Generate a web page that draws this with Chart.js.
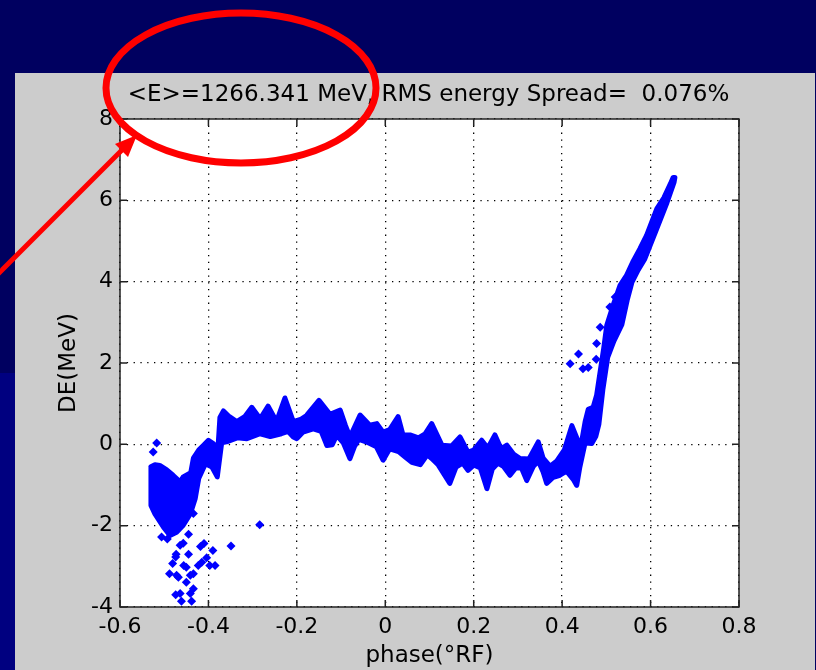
<!DOCTYPE html>
<html>
<head>
<meta charset="utf-8">
<script src="https://cdn.jsdelivr.net/npm/chart.js@4.4.1/dist/chart.umd.min.js"></script>
<style>
html, body { margin: 0; padding: 0; }
body { width: 816px; height: 670px; background: #000060; position: relative; overflow: hidden; }
#strip { position: absolute; left: 0; top: 373px; width: 15px; height: 297px; background: #000080; }
#panel { position: absolute; left: 15px; top: 73px; width: 800px; height: 597px; background: #cccccc; }
#wrap { position: absolute; left: 0; top: 0; width: 816px; height: 670px; }
</style>
</head>
<body>
<div id="strip"></div>
<div id="panel"></div>
<div id="wrap"><canvas id="c" width="816" height="670"></canvas></div>
<script>
// energy deviation vs phase
const titleText = '<E>=1266.341 MeV, RMS energy Spread=  0.076%';
const xTicks = [-0.6, -0.4, -0.2, 0, 0.2, 0.4, 0.6, 0.8];
const xTickLabels = ['-0.6', '-0.4', '-0.2', '0', '0.2', '0.4', '0.6', '0.8'];
const yTicks = [-4, -2, 0, 2, 4, 6, 8];
const yTickLabels = ['-4', '-2', '0', '2', '4', '6', '8'];

// upper edge of the dense band (phase, DE)
const bandUpper = [
  [-0.530, -0.55], [-0.521, -0.50], [-0.510, -0.52], [-0.495, -0.62], [-0.480, -0.76],
  [-0.464, -0.92], [-0.457, -0.80], [-0.440, -0.70], [-0.434, -0.34], [-0.422, -0.14],
  [-0.411, -0.02], [-0.400, 0.10], [-0.389, 0.02], [-0.379, -0.19], [-0.374, 0.66],
  [-0.366, 0.82], [-0.355, 0.70], [-0.336, 0.56], [-0.318, 0.68], [-0.302, 0.91],
  [-0.283, 0.63], [-0.265, 0.94], [-0.246, 0.56], [-0.227, 1.14], [-0.208, 0.56],
  [-0.190, 0.62], [-0.178, 0.71], [-0.150, 1.08], [-0.125, 0.74], [-0.102, 0.84],
  [-0.090, 0.46], [-0.080, 0.18], [-0.057, 0.72], [-0.035, 0.47], [-0.019, 0.51],
  [-0.005, 0.30], [0.010, 0.36], [0.029, 0.68], [0.040, 0.23], [0.056, 0.23],
  [0.075, 0.16], [0.090, 0.26], [0.105, 0.51], [0.128, -0.02], [0.150, -0.04],
  [0.169, 0.18], [0.187, -0.19], [0.200, -0.14], [0.218, 0.10], [0.232, -0.09],
  [0.248, 0.23], [0.262, -0.11], [0.275, -0.02], [0.290, -0.24], [0.305, -0.35],
  [0.325, -0.36], [0.346, 0.06], [0.357, -0.34], [0.373, -0.54], [0.388, -0.41],
  [0.405, -0.14], [0.422, 0.46], [0.435, 0.11], [0.444, 0.06], [0.452, 0.56],
  [0.459, 0.86], [0.470, 0.91], [0.478, 1.21], [0.487, 1.86], [0.494, 2.36],
  [0.501, 2.93], [0.515, 3.41], [0.531, 3.91], [0.546, 4.16], [0.561, 4.51],
  [0.576, 4.81], [0.591, 5.14], [0.614, 5.79], [0.630, 6.06], [0.645, 6.41],
  [0.651, 6.56]
];

// lower edge of the dense band
const bandLower = [
  [-0.530, -1.50], [-0.521, -1.71], [-0.502, -2.03], [-0.487, -2.24], [-0.472, -2.16],
  [-0.457, -1.99], [-0.441, -1.71], [-0.430, -1.34], [-0.422, -0.84], [-0.407, -0.48],
  [-0.392, -0.56], [-0.380, -0.80], [-0.370, 0.04], [-0.359, 0.06], [-0.335, 0.16],
  [-0.313, 0.14], [-0.283, 0.26], [-0.260, 0.19], [-0.235, 0.26], [-0.220, 0.32],
  [-0.208, 0.18], [-0.200, 0.14], [-0.186, 0.30], [-0.163, 0.38], [-0.145, 0.32],
  [-0.132, -0.03], [-0.120, -0.01], [-0.110, 0.22], [-0.095, 0.04], [-0.080, -0.35],
  [-0.070, -0.06], [-0.060, 0.12], [-0.045, 0.07], [-0.035, 0.02], [-0.020, -0.06],
  [-0.005, -0.39], [0.010, -0.11], [0.030, -0.18], [0.045, -0.31], [0.060, -0.44],
  [0.079, -0.50], [0.095, -0.26], [0.105, -0.35], [0.120, -0.51], [0.146, -0.96],
  [0.160, -0.56], [0.175, -0.46], [0.187, -0.64], [0.200, -0.51], [0.215, -0.58],
  [0.230, -1.09], [0.242, -0.61], [0.255, -0.46], [0.267, -0.54], [0.282, -0.76],
  [0.295, -0.58], [0.308, -0.58], [0.320, -0.89], [0.335, -0.54], [0.346, -0.41],
  [0.357, -0.68], [0.365, -0.96], [0.380, -0.81], [0.395, -0.76], [0.410, -0.66],
  [0.425, -0.86], [0.433, -1.01], [0.440, -0.56], [0.452, 0.04], [0.467, 0.02],
  [0.476, 0.19], [0.483, 0.49], [0.492, 1.34], [0.503, 2.14], [0.517, 2.54],
  [0.535, 2.94], [0.547, 3.54], [0.558, 3.99], [0.572, 4.29], [0.587, 4.56],
  [0.611, 5.22], [0.637, 5.94], [0.653, 6.44], [0.655, 6.56]
];

// isolated particles
const strays = [
  [-0.517, 0.03], [-0.525, -0.19], [-0.434, -1.70], [-0.445, -2.21], [-0.506, -2.28],
  [-0.493, -2.33], [-0.464, -2.48], [-0.457, -2.43], [-0.418, -2.51], [-0.410, -2.44],
  [-0.390, -2.61], [-0.473, -2.70], [-0.474, -2.77], [-0.445, -2.70], [-0.481, -2.93],
  [-0.456, -2.98], [-0.450, -3.02], [-0.423, -2.98], [-0.415, -2.90], [-0.404, -2.79],
  [-0.434, -3.18], [-0.441, -3.22], [-0.397, -2.98], [-0.385, -2.98], [-0.488, -3.18],
  [-0.472, -3.22], [-0.468, -3.27], [-0.450, -3.39], [-0.434, -3.55], [-0.441, -3.67],
  [-0.474, -3.70], [-0.464, -3.67], [-0.461, -3.86], [-0.438, -3.86], [-0.349, -2.50],
  [-0.284, -1.98], [0.418, 1.98], [0.437, 2.22], [0.447, 1.86], [0.459, 1.89],
  [0.477, 2.09], [0.478, 2.48], [0.486, 2.88], [0.508, 3.38], [0.520, 3.62], [0.550, 4.16]
];

const toPts = arr => arr.map(p => ({ x: p[0], y: p[1] }));
const bandShape = toPts(bandUpper.concat(bandLower.slice().reverse()));
bandShape.push(bandShape[0]);

const FONT = '"DejaVu Sans", sans-serif';
Chart.defaults.font.family = FONT;
Chart.defaults.color = '#000';

// white plot area, MATLAB style box with inward ticks, title and red annotation
const decor = {
  id: 'decor',
  beforeDraw(chart) {
    const { ctx, chartArea: a } = chart;
    ctx.save();
    ctx.fillStyle = '#fff';
    ctx.fillRect(a.left, a.top, a.right - a.left, a.bottom - a.top);
    ctx.restore();
  },
  afterDraw(chart) {
    const { ctx, chartArea: a, scales } = chart;
    ctx.save();
    ctx.strokeStyle = '#222';
    ctx.lineWidth = 1.5;
    ctx.strokeRect(a.left, a.top, a.right - a.left, a.bottom - a.top);
    ctx.beginPath();
    xTicks.forEach(v => {
      const px = scales.x.getPixelForValue(v);
      ctx.moveTo(px, a.bottom); ctx.lineTo(px, a.bottom - 7);
      ctx.moveTo(px, a.top); ctx.lineTo(px, a.top + 7);
    });
    yTicks.forEach(v => {
      const py = scales.y.getPixelForValue(v);
      ctx.moveTo(a.left, py); ctx.lineTo(a.left + 7, py);
      ctx.moveTo(a.right, py); ctx.lineTo(a.right - 7, py);
    });
    ctx.stroke();

    // title
    ctx.fillStyle = '#000';
    ctx.font = '23px ' + FONT;
    ctx.textAlign = 'center';
    ctx.textBaseline = 'middle';
    ctx.fillText(titleText, (a.left + a.right) / 2 - 1, 95);

    // red highlight
    ctx.strokeStyle = '#ff0000';
    ctx.fillStyle = '#ff0000';
    ctx.lineWidth = 7;
    ctx.beginPath();
    ctx.ellipse(241, 88, 135, 75, 0, 0, Math.PI * 2);
    ctx.stroke();
    ctx.lineWidth = 5;
    ctx.beginPath();
    ctx.moveTo(-5, 277);
    ctx.lineTo(125, 147);
    ctx.stroke();
    ctx.beginPath();
    ctx.moveTo(137, 135);
    ctx.lineTo(128, 157);
    ctx.lineTo(115, 144);
    ctx.closePath();
    ctx.fill();
    ctx.restore();
  }
};

new Chart(document.getElementById('c'), {
  type: 'scatter',
  data: {
    datasets: [
      {
        data: bandShape,
        showLine: true,
        fill: 'shape',
        tension: 0,
        borderColor: '#0000ff',
        backgroundColor: '#0000ff',
        borderWidth: 5,
        borderJoinStyle: 'round',
        borderCapStyle: 'round',
        pointRadius: 0
      },
      {
        data: toPts(strays),
        pointStyle: 'rectRot',
        pointRadius: 4.5,
        pointBorderWidth: 0,
        pointBackgroundColor: '#0000ff',
        backgroundColor: '#0000ff',
        borderColor: '#0000ff'
      }
    ]
  },
  options: {
    responsive: false,
    animation: false,
    devicePixelRatio: 1,
    layout: { padding: { left: 50, right: 77, top: 119, bottom: 0 } },
    plugins: { legend: { display: false }, tooltip: { enabled: false } },
    scales: {
      x: {
        type: 'linear',
        min: -0.6,
        max: 0.8,
        afterBuildTicks: s => { s.ticks = xTicks.map(v => ({ value: v })); },
        afterFit: s => { s.height = 63; },
        ticks: {
          callback: (v, i) => xTickLabels[i],
          font: { size: 22 },
          color: '#000',
          padding: 7,
          maxRotation: 0,
          autoSkip: false
        },
        grid: { color: '#000', lineWidth: 1.3, drawTicks: false },
        border: { display: false, dash: [1.3, 5.5] },
        title: { display: true, text: 'phase(°RF)', font: { size: 23 }, color: '#000', padding: { top: 0, bottom: 0 } }
      },
      y: {
        type: 'linear',
        min: -4,
        max: 8,
        afterBuildTicks: s => { s.ticks = yTicks.map(v => ({ value: v })); },
        afterFit: s => { s.width = 70; },
        ticks: {
          callback: (v, i) => yTickLabels[i],
          font: { size: 22 },
          color: '#000',
          padding: 7
        },
        grid: { color: '#000', lineWidth: 1.3, drawTicks: false },
        border: { display: false, dash: [1.3, 5.5] },
        title: { display: true, text: 'DE(MeV)', font: { size: 23 }, color: '#000', padding: { top: 5, bottom: 0 } }
      }
    }
  },
  plugins: [decor]
});
</script>
</body>
</html>
